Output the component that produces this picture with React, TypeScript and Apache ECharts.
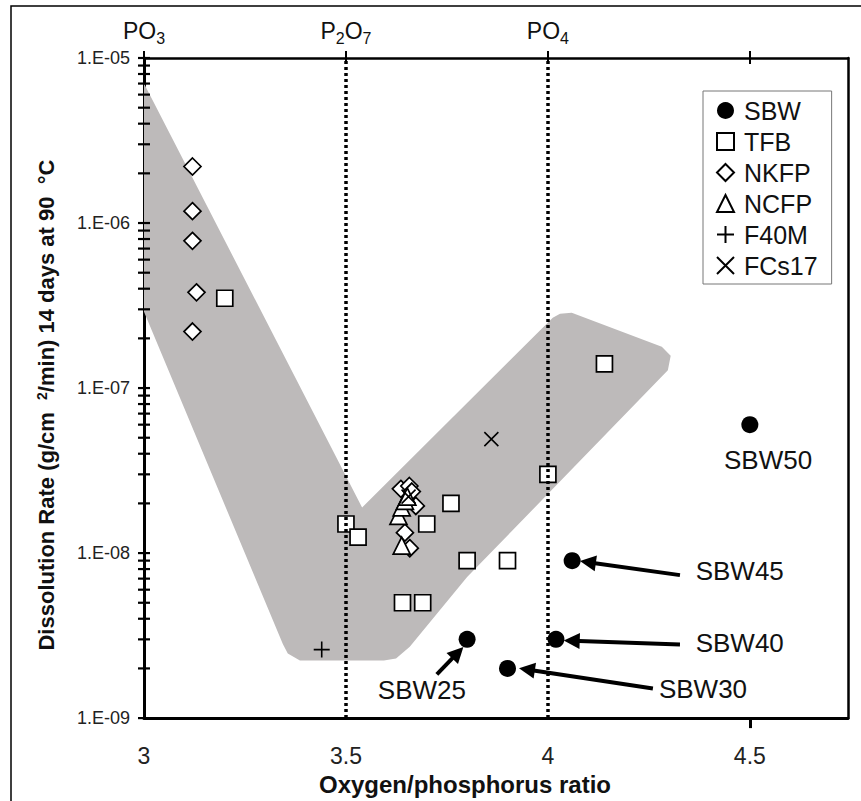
import React, { useEffect, useRef } from "react";
import * as echarts from "echarts";

// ---- axes ----
const XMIN = 3;
const XMAX = 4.743;
const YMIN = 1e-9;
const YMAX = 1e-5;
const xTickValues = [3, 3.5, 4, 4.5];
const topLabelValues = [3, 3.5, 4];
const topLabelTexts = ["PO{sub|3}", "P{sub|2}O{sub|7}", "PO{sub|4}"];
const yDecades = [1e-9, 1e-8, 1e-7, 1e-6, 1e-5];
const minorMultipliers = [1, 2, 3, 4, 5, 6, 7, 8, 9];
const phaseLines = [3.5, 4];

// ---- series data [O/P ratio, dissolution rate] ----
const sbw: [number, number][] = [
  [4.5, 6e-8],
  [4.06, 9e-9],
  [4.02, 3e-9],
  [3.9, 2e-9],
  [3.8, 3e-9],
];
const tfb: [number, number][] = [
  [3.2, 3.5e-7],
  [4.14, 1.4e-7],
  [4.0, 3e-8],
  [3.5, 1.5e-8],
  [3.53, 1.25e-8],
  [3.76, 2e-8],
  [3.7, 1.5e-8],
  [3.8, 9e-9],
  [3.9, 9e-9],
  [3.64, 5e-9],
  [3.69, 5e-9],
];
const nkfp: [number, number][] = [
  [3.12, 2.2e-6],
  [3.12, 1.18e-6],
  [3.12, 7.8e-7],
  [3.13, 3.8e-7],
  [3.12, 2.2e-7],
  [3.636, 2.45e-8],
  [3.657, 2.55e-8],
  [3.663, 2.36e-8],
  [3.673, 1.93e-8],
  [3.646, 1.33e-8],
  [3.658, 1.07e-8],
];
const ncfp: [number, number][] = [
  [3.63, 1.68e-8],
  [3.638, 1.89e-8],
  [3.646, 2.07e-8],
  [3.652, 2.2e-8],
  [3.638, 1.11e-8],
];
const f40m: [number, number][] = [[3.44, 2.6e-9]];
const fcs17: [number, number][] = [
  [3.86, 4.9e-8],
  [3.655, 2.2e-8],
];

// ---- shaded region outline (data coordinates) ----
const regionX = [3.0, 3.54, 4.012, 4.03, 4.059, 4.282, 4.304, 4.297, 3.8, 3.658, 3.624, 3.594, 3.386, 3.356, 3.344, 3.0];
const regionY = [7.0e-6, 1.89e-8, 2.67e-7, 2.82e-7, 2.86e-7, 1.78e-7, 1.57e-7, 1.28e-7, 7.15e-9, 2.71e-9, 2.3e-9, 2.23e-9, 2.23e-9, 2.46e-9, 2.8e-9, 2.9e-7];

// ---- annotations (data coordinates) ----
const annotationNames = ["SBW50", "SBW45", "SBW40", "SBW30", "SBW25"];
const annotationText: [number, number][] = [
  [4.545, 3.67e-8],
  [4.475, 7.77e-9],
  [4.475, 2.86e-9],
  [4.384, 1.51e-9],
  [3.688, 1.49e-9],
];
const arrowFrom: ([number, number] | null)[] = [
  null,
  [4.327, 7.35e-9],
  [4.327, 2.79e-9],
  [4.26, 1.51e-9],
  [3.725, 1.84e-9],
];
const arrowTo: ([number, number] | null)[] = [
  null,
  [4.099, 8.8e-9],
  [4.059, 2.94e-9],
  [3.948, 1.97e-9],
  [3.777, 2.49e-9],
];

const FONT = '"Liberation Sans", Arial, Helvetica, sans-serif';
const PLUS = "path://M0,5L10,5M5,0L5,10";
const CROSS = "path://M0,0L10,10M10,0L0,10";

export default function App() {
  const ref = useRef<HTMLDivElement>(null);

  useEffect(() => {
    if (!ref.current) return;
    const chart = echarts.init(ref.current, null, { renderer: "svg" });

    const yTickValues: number[] = [];
    yDecades.forEach((d, i) => {
      if (i === yDecades.length - 1) {
        yTickValues.push(d);
        return;
      }
      minorMultipliers.forEach((m) => yTickValues.push(m * d));
    });

    const openStyle = { color: "#ffffff", borderColor: "#000", borderWidth: 1.7, opacity: 1 };
    const strokeStyle = { color: "transparent", borderColor: "#000", borderWidth: 1.6, opacity: 1 };

    const arrowData: any[] = [];
    annotationNames.forEach((n, i) => {
      const f = arrowFrom[i];
      const t = arrowTo[i];
      if (f && t) arrowData.push([{ coord: f }, { coord: t }]);
    });

    const option: any = {
      animation: false,
      backgroundColor: "#ffffff",
      textStyle: { fontFamily: FONT },
      grid: { left: 144, right: 13, top: 58, bottom: 79, containLabel: false },
      graphic: [
        {
          type: "rect",
          silent: true,
          z: -10,
          shape: { x: 11, y: 6, width: 900, height: 900 },
          style: { fill: "none", stroke: "#000", lineWidth: 1.5 },
        },
      ],
      legend: {
        orient: "vertical",
        left: 703,
        top: 91,
        data: ["SBW", "TFB", "NKFP", "NCFP", "F40M", "FCs17"],
        backgroundColor: "#ffffff",
        borderColor: "#777",
        borderWidth: 1,
        borderRadius: 0,
        padding: [7, 14, 6, 13],
        itemWidth: 17,
        itemHeight: 17,
        itemGap: 6,
        textStyle: { fontFamily: FONT, fontSize: 25, lineHeight: 25, color: "#111", padding: [0, 0, 0, 5] },
      },
      xAxis: [
        {
          type: "value",
          position: "bottom",
          min: XMIN,
          max: XMAX,
          interval: 0.5,
          axisLine: { show: true, onZero: false, lineStyle: { color: "#000", width: 3 } },
          axisTick: { show: false },
          splitLine: { show: false },
          axisLabel: {
            customValues: xTickValues,
            fontSize: 23,
            margin: 26,
            color: "#222",
            fontFamily: FONT,
          },
          name: "Oxygen/phosphorus ratio",
          nameLocation: "middle",
          nameGap: 48,
          nameTextStyle: {
            fontFamily: FONT,
            fontWeight: "bold",
            fontSize: 24,
            color: "#111",
            padding: [0, 62, 0, 0],
          },
        },
        {
          type: "value",
          position: "bottom",
          min: XMIN,
          max: XMAX,
          axisLine: { show: false },
          axisTick: { show: true, customValues: [4.5], length: 10, lineStyle: { color: "#000", width: 3 } },
          axisLabel: { show: false },
          splitLine: { show: false },
        },
        {
          type: "value",
          position: "top",
          min: XMIN,
          max: XMAX,
          axisLine: { show: true, onZero: false, lineStyle: { color: "#000", width: 2.5 } },
          axisTick: { show: true, customValues: xTickValues, length: 7, lineStyle: { color: "#000", width: 2 } },
          splitLine: { show: false },
          axisLabel: {
            customValues: topLabelValues,
            margin: 12,
            fontSize: 23,
            lineHeight: 30,
            color: "#111",
            fontFamily: FONT,
            formatter: (v: number) => {
              const i = topLabelValues.findIndex((t) => Math.abs(t - v) < 1e-6);
              return i >= 0 ? topLabelTexts[i] : "";
            },
            rich: {
              sub: { fontSize: 16, lineHeight: 16, verticalAlign: "bottom", color: "#111", fontFamily: FONT },
            },
          },
        },
        {
          type: "value",
          position: "top",
          min: XMIN,
          max: XMAX,
          axisLine: { show: false },
          axisTick: { show: true, inside: true, customValues: xTickValues, length: 6, lineStyle: { color: "#000", width: 2 } },
          axisLabel: { show: false },
          splitLine: { show: false },
        },
      ],
      yAxis: [
        {
          type: "log",
          logBase: 10,
          position: "left",
          min: YMIN,
          max: YMAX,
          axisLine: { show: true, onZero: false, lineStyle: { color: "#000", width: 3 } },
          axisTick: { show: false },
          minorTick: { show: false },
          splitLine: { show: false },
          axisLabel: {
            fontSize: 18,
            margin: 14,
            color: "#222",
            fontFamily: FONT,
            formatter: (v: number) => {
              const e = Math.round(-Math.log10(v));
              return "1.E-" + String(e).padStart(2, "0");
            },
          },
          name: "Dissolution Rate (g/cm  {sup|2}/min) 14 days at 90  °C",
          nameLocation: "middle",
          nameGap: 87,
          nameTextStyle: {
            fontFamily: FONT,
            fontWeight: "bold",
            fontSize: 22,
            color: "#111",
            padding: [0, 34, 0, 0],
            rich: {
              sup: { fontSize: 14, fontWeight: "bold", lineHeight: 14, verticalAlign: "top", color: "#111", fontFamily: FONT },
            },
          },
        },
        {
          type: "log",
          logBase: 10,
          position: "right",
          min: YMIN,
          max: YMAX,
          axisLine: { show: true, onZero: false, lineStyle: { color: "#000", width: 2.5 } },
          axisTick: { show: false },
          axisLabel: { show: false },
          splitLine: { show: false },
        },
      ],
      series: [
        {
          type: "custom",
          name: "region",
          silent: true,
          z: 1,
          clip: true,
          data: [[3.5, 1e-7]],
          renderItem: (_params: any, api: any) => {
            const pts = regionX.map((x, i) => api.coord([x, regionY[i]]));
            return { type: "polygon", shape: { points: pts }, style: { fill: "#bdbaba" } };
          },
        },
        {
          type: "custom",
          name: "yticks",
          silent: true,
          z: 6,
          clip: false,
          data: yTickValues.map((v) => [XMIN, v]),
          renderItem: (_params: any, api: any) => {
            const p = api.coord([api.value(0), api.value(1)]);
            return {
              type: "line",
              shape: { x1: p[0] - 6, y1: p[1], x2: p[0] + 6, y2: p[1] },
              style: { stroke: "#000", lineWidth: 2.2 },
            };
          },
        },
        {
          type: "scatter",
          name: "SBW",
          z: 4,
          symbol: "circle",
          symbolSize: 17,
          itemStyle: { color: "#000", borderColor: "#000", borderWidth: 0, opacity: 1 },
          data: sbw,
          markLine: {
            silent: true,
            symbol: ["none", "triangle"],
            symbolSize: 16,
            label: { show: false },
            lineStyle: { color: "#000", width: 4, type: "solid", opacity: 1 },
            data: arrowData,
          },
          markPoint: {
            silent: true,
            symbol: "circle",
            symbolSize: 1,
            itemStyle: { color: "transparent" },
            label: {
              show: true,
              position: "inside",
              fontSize: 26,
              color: "#111",
              fontFamily: FONT,
              formatter: (p: any) => p.name,
            },
            data: annotationNames.map((n, i) => ({ name: n, coord: annotationText[i] })),
          },
        },
        {
          type: "scatter",
          name: "TFB",
          z: 4,
          symbol: "rect",
          symbolSize: 16,
          itemStyle: openStyle,
          data: tfb,
        },
        {
          type: "scatter",
          name: "NKFP",
          z: 4,
          symbol: "diamond",
          symbolSize: 17,
          itemStyle: openStyle,
          data: nkfp,
        },
        {
          type: "scatter",
          name: "NCFP",
          z: 4,
          symbol: "triangle",
          symbolSize: 17,
          itemStyle: openStyle,
          data: ncfp,
        },
        {
          type: "scatter",
          name: "F40M",
          z: 4,
          symbol: PLUS,
          symbolSize: 16,
          itemStyle: strokeStyle,
          data: f40m,
        },
        {
          type: "scatter",
          name: "FCs17",
          z: 4,
          symbol: CROSS,
          symbolSize: 14,
          itemStyle: strokeStyle,
          data: fcs17,
        },
        {
          type: "scatter",
          name: "phase",
          z: 5,
          symbolSize: 0,
          silent: true,
          data: [],
          markLine: {
            silent: true,
            symbol: ["none", "none"],
            label: { show: false },
            lineStyle: { color: "#000", width: 3.5, type: [3, 3], opacity: 1 },
            data: phaseLines.map((x) => ({ xAxis: x })),
          },
        },
      ],
    };

    chart.setOption(option);
    return () => chart.dispose();
  }, []);

  return (
    <div
      ref={ref}
      style={{ position: "fixed", left: 0, top: 0, width: 861, height: 801, background: "#fff" }}
    />
  );
}
